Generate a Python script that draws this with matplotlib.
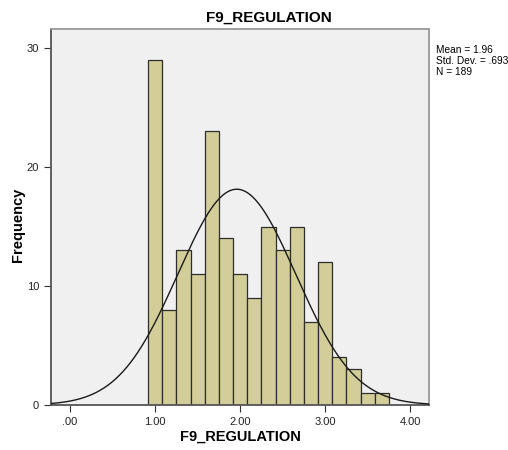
import numpy as np
import matplotlib.pyplot as plt

plt.rcParams['font.family'] = ['Liberation Sans', 'DejaVu Sans']

# histogram of F9_REGULATION (bin width 1/6)
bin_width = 1.0 / 6
bin_start = 1.0 - bin_width / 2
counts = [29, 8, 13, 11, 23, 14, 11, 9, 15, 13, 15, 7, 12, 4, 3, 1, 1]
mean = 1.96
std = 0.693
n = 189

edges = bin_start + bin_width * np.arange(len(counts) + 1)

fig = plt.figure(figsize=(5.08, 4.5), dpi=100)
ax = fig.add_axes([0.1004, 0.1, 0.7441, 0.8356])
ax.set_facecolor('#f0f0f0')

ax.bar(edges[:-1], counts, width=bin_width, align='edge',
       color='#d3ce99', edgecolor='#2e2e2e', linewidth=0.9, zorder=2)

# normal curve scaled to counts
xs = np.linspace(-0.224, 4.22, 400)
ys = n * bin_width / (std * np.sqrt(2 * np.pi)) * np.exp(-0.5 * ((xs - mean) / std) ** 2)
ax.plot(xs, ys, color='#1a1a1a', linewidth=1.0, zorder=3)

ax.set_xlim(-0.224, 4.22)
ax.set_ylim(0, 31.6)
ax.set_xticks([0, 1, 2, 3, 4])
ax.set_xticklabels(['.00', '1.00', '2.00', '3.00', '4.00'])
ax.set_yticks([0, 10, 20, 30])
ax.tick_params(labelsize=8, length=5, width=0.8, color='#333333', labelcolor='#222222')

for side in ['left', 'bottom']:
    ax.spines[side].set_color('#555555')
    ax.spines[side].set_linewidth(1.3)
for side in ['top', 'right']:
    ax.spines[side].set_color('#999999')
    ax.spines[side].set_linewidth(1.3)

# axis titles placed in figure coords
fig.text(0.4724, 0.029, 'F9_REGULATION', fontsize=10.5, fontweight='bold', ha='center', va='center')
fig.text(0.035, 0.5, 'Frequency', fontsize=10.5, fontweight='bold', ha='center', va='center',
         rotation=90)
fig.text(0.53, 0.96, 'F9_REGULATION', fontsize=11, fontweight='bold', ha='center', va='center')

fig.text(0.858, 0.9, 'Mean = 1.96\nStd. Dev. = .693\nN = 189',
         fontsize=7.3, va='top', ha='left', linespacing=1.1)

fig.savefig('out.png', dpi=100)
